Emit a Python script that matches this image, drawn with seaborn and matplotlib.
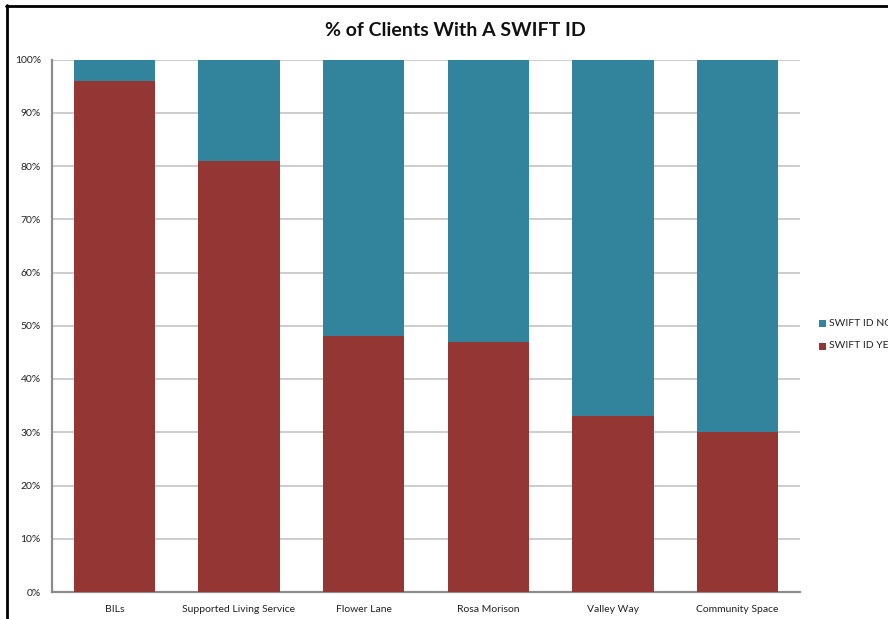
import matplotlib
matplotlib.use("Agg")
import matplotlib.pyplot as plt
import seaborn as sns
import pandas as pd
from matplotlib.lines import Line2D
from matplotlib.patches import Rectangle

categories = ["BILs", "Supported Living Service", "Flower Lane",
              "Rosa Morison", "Valley Way", "Community Space"]
swift_yes = [96, 81, 48, 47, 33, 30]
swift_no = [4, 19, 52, 53, 67, 70]
y_ticks = [0, 10, 20, 30, 40, 50, 60, 70, 80, 90, 100]
y_tick_labels = [f"{v}%" for v in y_ticks]

RED = "#943634"
TEAL = "#31849B"

sns.set_theme(style="white")
plt.rcParams["font.family"] = ["Lato", "DejaVu Sans"]

df = pd.DataFrame({"category": categories, "yes": swift_yes, "no": swift_no})
df["total"] = df["yes"] + df["no"]

fig = plt.figure(figsize=(8.88, 6.19), dpi=100)
ax = fig.add_axes([52 / 888, 1 - 592 / 619, (800 - 52) / 888, (592 - 59.5) / 619])

# Stacked bars: full height (NO on top) then YES from the baseline
sns.barplot(data=df, x="category", y="total", color=TEAL, width=0.65,
            saturation=1, linewidth=0, ax=ax, zorder=3)
sns.barplot(data=df, x="category", y="yes", color=RED, width=0.65,
            saturation=1, linewidth=0, ax=ax, zorder=4)

ax.set_xlim(-0.5, len(categories) - 0.5)
ax.set_ylim(0, 100)
ax.set_yticks(y_ticks)
ax.set_yticklabels(y_tick_labels)
ax.set_xlabel("")
ax.set_ylabel("")
ax.tick_params(axis="both", length=0, labelsize=7.5, colors="#222222")
ax.tick_params(axis="y", pad=8)
ax.tick_params(axis="x", pad=9)
ax.yaxis.grid(True, color="#bfbfbf", linewidth=1.1, zorder=0)
ax.set_axisbelow(True)
for s in ["top", "right"]:
    ax.spines[s].set_visible(False)
for s in ["left", "bottom"]:
    ax.spines[s].set_color("#8c8c8c")
    ax.spines[s].set_linewidth(1.6)

fig.text(455 / 888, 1 - 30 / 619, "% of Clients With A SWIFT ID",
         ha="center", va="center", fontsize=14, fontweight="bold", color="#111111")

# Legend entries at the right edge
for label, color, ypix in [("SWIFT ID NO", TEAL, 323), ("SWIFT ID YES", RED, 346)]:
    fig.patches.append(Rectangle((819 / 888, 1 - (ypix + 4) / 619), 7 / 888, 7 / 619,
                                 transform=fig.transFigure, facecolor=color,
                                 edgecolor="none"))
    fig.text(829 / 888, 1 - ypix / 619, label, ha="left", va="center",
             fontsize=7.5, color="#222222")

# Outer frame lines of the chart container
fig.add_artist(Line2D([7 / 888, 7 / 888], [0, 1 - 5 / 619], color="black",
                      linewidth=2, transform=fig.transFigure))
fig.add_artist(Line2D([6 / 888, 1], [1 - 6 / 619, 1 - 6 / 619], color="black",
                      linewidth=2, transform=fig.transFigure))

fig.savefig("out.png", dpi=100, facecolor="white")
